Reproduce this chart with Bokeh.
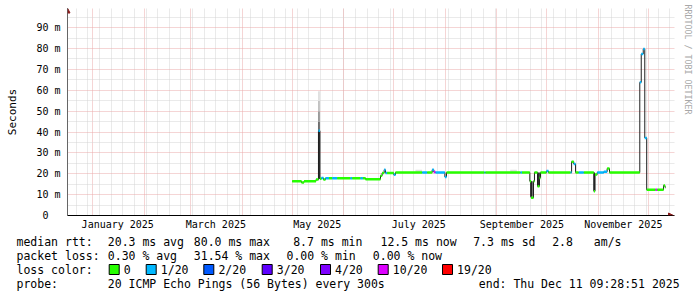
import pandas as pd
from bokeh.plotting import figure
from bokeh.layouts import column
from bokeh.models import (FixedTicker, DatetimeTickFormatter, Range1d, Arrow, NormalHead,
                          ColumnDataSource, LinearAxis)
from bokeh.core.properties import value
from bokeh.embed import file_html
from bokeh.resources import INLINE

# ---------------- data ----------------
seg_start = [
    "2025-04-30 21:00", "2025-05-06 12:00", "2025-05-08 00:00", "2025-05-15 05:00",
    "2025-05-16 17:00", "2025-05-17 14:00", "2025-05-18 12:00", "2025-05-19 17:00",
    "2025-05-20 22:00", "2025-05-23 00:00", "2025-05-25 00:00", "2025-05-28 00:00",
    "2025-06-04 22:00", "2025-06-06 00:00", "2025-06-11 00:00", "2025-06-12 10:00",
    "2025-06-14 00:00", "2025-06-23 00:00", "2025-06-24 00:00", "2025-06-25 05:00",
    "2025-06-26 00:00", "2025-06-27 00:00", "2025-07-01 00:00", "2025-07-02 00:00",
    "2025-07-18 02:00", "2025-07-21 02:00", "2025-07-24 02:00", "2025-07-25 02:00",
    "2025-07-26 02:00", "2025-07-31 17:00", "2025-08-01 17:00", "2025-08-24 12:00",
    "2025-08-25 02:00", "2025-09-15 05:00", "2025-09-16 02:00", "2025-09-20 19:00",
    "2025-09-21 14:00", "2025-09-23 00:00", "2025-09-23 14:00", "2025-09-25 10:00",
    "2025-09-26 14:00", "2025-09-27 05:00", "2025-09-30 19:00", "2025-10-02 00:00",
    "2025-10-15 07:00", "2025-10-15 22:00", "2025-10-17 05:00", "2025-10-18 07:00",
    "2025-10-20 05:00", "2025-10-23 07:00", "2025-10-29 07:00", "2025-10-30 00:00",
    "2025-10-31 07:00", "2025-11-04 07:00", "2025-11-06 07:00", "2025-11-07 17:00",
    "2025-11-25 22:00", "2025-11-26 19:00", "2025-11-28 00:00", "2025-11-28 22:00",
    "2025-11-30 02:00", "2025-12-05 10:00", "2025-12-06 10:00", "2025-12-10 05:00",
    "2025-12-11 02:00",
]
seg_median = [
    16.4, 15.8, 16.4, 17.2,
    40.6, 17.6, 18.0, 17.2,
    17.9, 17.9, 17.9, 17.9,
    17.9, 17.9, 17.9, 17.9,
    17.4, 19.1, 20.4, 21.9,
    20.4, 20.4, 19.5, 20.6,
    20.6, 20.6, 21.9, 20.8,
    20.6, 18.5, 20.6, 20.6,
    20.6, 20.6, 20.6, 16.4,
    8.5, 16.4, 20.6, 14.0,
    18.0, 20.6, 21.3, 20.6,
    20.6, 25.8, 24.7, 20.6,
    20.6, 20.6, 11.6, 19.6,
    20.6, 21.0, 22.5, 20.6,
    63.8, 77.4, 79.8, 37.2,
    12.3, 12.3, 12.3, 14.4,
    13.5,
]
seg_loss = [
    0, 0, 0, 0,
    1, 0, 1, 0,
    1, 0, 1, 0,
    1, 0, 1, 0,
    0, 0, 0, 1,
    1, 0, 1, 0,
    1, 0, 1, 10,
    1, 1, 0, 1,
    0, 1, 0, 0,
    0, 0, 0, 0,
    0, 0, 1, 0,
    1, 0, 1, 0,
    1, 0, 0, 0,
    1, 1, 0, 0,
    1, 1, 1, 1,
    0, 10, 0, 0,
    0,
]
data_end = "2025-12-11 09:28"

# smoke (spread of the 20 pings), rank 0 = close to median (dark) .. 4 = far (light)
smoke_start = ["2025-05-16 10:00"] * 5 + ["2025-07-14 00:00", "2025-09-09 00:00",
               "2025-09-21 00:00", "2025-09-25 06:00", "2025-10-29 04:00"]
smoke_end = ["2025-05-17 14:00"] * 5 + ["2025-07-18 00:00", "2025-09-13 00:00",
             "2025-09-22 12:00", "2025-09-26 20:00", "2025-10-30 00:00"]
smoke_lo = [17.5, 40.6, 45.0, 50.0, 55.0, 20.6, 20.6, 9.0, 14.5, 12.0]
smoke_hi = [40.6, 45.0, 50.0, 55.0, 59.5, 21.9, 21.9, 16.4, 20.6, 20.6]
smoke_rank = [0, 1, 2, 3, 4, 4, 4, 0, 0, 0]

loss_keys = [0, 1, 2, 3, 4, 10, 19]
loss_labels = ["0", "1/20", "2/20", "3/20", "4/20", "10/20", "19/20"]
loss_colors = ["#26ff00", "#00b8ff", "#0059ff", "#5e00ff", "#7e00ff", "#dd00ff", "#ff0000"]

y_ticks = [0, 10, 20, 30, 40, 50, 60, 70, 80, 90]
y_minor = [5, 15, 25, 35, 45, 55, 65, 75, 85, 95]
month_labels = ["2025-01-16", "2025-03-16", "2025-05-16", "2025-07-16", "2025-09-16", "2025-11-16"]
month_starts = ["2025-%02d-01" % m for m in range(1, 13)]
week_starts = list(pd.date_range("2024-12-22", "2025-12-14", freq="7D").strftime("%Y-%m-%d"))

x_start, x_end = "2024-12-16 19:00", "2025-12-16 19:00"
y_top = 99.2

legend_rows = [
    [("median rtt:", 16), ("20.3 ms avg", 107.3), ("80.0 ms max", 193.3), ("8.7 ms min", 292.7),
     ("12.5 ms now", 380), ("7.3 ms sd", 472.7), ("2.8", 551.7), ("am/s", 593.3)],
    [("packet loss:", 16), ("0.30 % avg", 107.3), ("31.54 % max", 193.3), ("0.00 % min", 286),
     ("0.00 % now", 372.3)],
    [("loss color:", 16)],
    [("probe:", 16), ("20 ICMP Echo Pings (56 Bytes) every 300s", 107.3),
     ("end: Thu Dec 11 09:28:51 2025", 478.3)],
]
legend_box_x = [108.7, 145.7, 203.3, 261.7, 320.0, 377.7, 442.0]

# ---------------- helpers ----------------
def ms(s):
    return pd.Timestamp(s).value / 1e6

W = 697
MAIN_H = 232
FL, FT, FB, FR = 67, 8, 216, 674   # frame edges (canvas px)
MONO = "DejaVu Sans Mono"

p = figure(width=W, height=MAIN_H, x_axis_type="datetime",
           x_range=Range1d(ms(x_start), ms(x_end)), y_range=Range1d(0, y_top),
           output_backend="svg", toolbar_location=None, title=None,
           min_border_left=FL, min_border_right=W - FR, min_border_top=FT,
           min_border_bottom=MAIN_H - FB,
           background_fill_color="white", border_fill_color="white", outline_line_color=None)

# grids
major_grid = "#eaaaaa"
minor_grid = "#d4d4d4"
p.xgrid.ticker = FixedTicker(ticks=[ms(d) for d in month_starts],
                             minor_ticks=[ms(d) for d in week_starts])
p.ygrid.ticker = FixedTicker(ticks=y_ticks[1:], minor_ticks=y_minor)
for g in (p.xgrid, p.ygrid):
    g.grid_line_color = major_grid
    g.grid_line_dash = "1 1"
    g.minor_grid_line_color = minor_grid
    g.minor_grid_line_dash = "1 1"

# axes
xa = p.xaxis[0]
xa.ticker = FixedTicker(ticks=[ms(d) for d in month_labels])
fmt = "%B %Y"
xa.formatter = DatetimeTickFormatter(microseconds=fmt, milliseconds=fmt, seconds=fmt, minsec=fmt,
                                     minutes=fmt, hourmin=fmt, hours=fmt, days=fmt,
                                     months=fmt, years=fmt)
ya = p.yaxis[0]
ya.ticker = FixedTicker(ticks=y_ticks)
ya.major_label_overrides = {t: (f"{t} m" if t else "0\u00a0\u00a0") for t in y_ticks}
for ax in (xa, ya):
    ax.major_tick_line_color = None
    ax.minor_tick_line_color = None
    ax.major_tick_out = 0
    ax.major_tick_in = 0
    ax.major_label_text_font = MONO
    ax.major_label_text_font_size = "10px"
    ax.major_label_text_color = "black"
xa.major_label_standoff = 3
ya.major_label_standoff = 7
xa.axis_line_color = "#000000"
ya.axis_line_color = "#666666"
ya.axis_label = "Seconds"
ya.axis_label_text_font = MONO
ya.axis_label_text_font_size = "11px"
ya.axis_label_text_font_style = "normal"
ya.axis_label_text_color = "black"
ya.axis_label_standoff = 14

# watermark as a bare right axis label (trailing no-break spaces lift it to the top)
wm = LinearAxis(ticker=FixedTicker(ticks=[]),
                axis_line_color=None, major_tick_line_color=None, minor_tick_line_color=None,
                axis_label="RRDTOOL / TOBI OETIKER" + "\u00a0" * 21,
                axis_label_text_font=MONO,
                axis_label_text_font_size="8.3px", axis_label_text_font_style="normal",
                axis_label_text_color="#a8a8a8", axis_label_standoff=8)
p.add_layout(wm, "right")

# smoke
shades = ["#2e2e2e", "#6e6e6e", "#9a9a9a", "#c2c2c2", "#e0e0e0"]
p.quad(left=[ms(d) for d in smoke_start], right=[ms(d) for d in smoke_end],
       bottom=smoke_lo, top=smoke_hi, fill_color=[shades[r] for r in smoke_rank],
       line_color=None)

# median step line
xs = [ms(d) for d in seg_start] + [ms(data_end)]
ys = seg_median + [seg_median[-1]]
p.step(x=xs, y=ys, mode="after", line_color="#202020", line_width=1)

# loss-coloured median band
cmap = dict(zip(loss_keys, loss_colors))
src = ColumnDataSource(dict(x0=xs[:-1], x1=xs[1:], y=seg_median,
                            c=[cmap[l] for l in seg_loss]))
p.segment(x0="x0", y0="y", x1="x1", y1="y", line_color="c", line_width=2.5,
          line_cap="butt", source=src)

# axis arrows
arrow_col = "#8b1c1c"
p.add_layout(Arrow(x_start=0, y_start=0, x_end=673 - FL, y_end=0,
                   start_units="screen", end_units="screen", line_color="#000000",
                   line_width=1, end=NormalHead(size=5, fill_color=arrow_col, line_color=arrow_col)))
p.add_layout(Arrow(x_start=0, y_start=0, x_end=0, y_end=FB - 8.5,
                   start_units="screen", end_units="screen", line_color="#666666",
                   line_width=1, end=NormalHead(size=5, fill_color=arrow_col, line_color=arrow_col)))

# ---------------- legend strip ----------------
LEG_H = 297 - MAIN_H
leg = figure(width=W, height=LEG_H, x_range=Range1d(0, W), y_range=Range1d(LEG_H, 0),
             output_backend="svg", toolbar_location=None, title=None,
             x_axis_location=None, y_axis_location=None, min_border=0,
             background_fill_color="white", border_fill_color="white", outline_line_color=None)
leg.grid.visible = False
for fig in (p, leg):
    try:
        fig.frame_align = False
    except AttributeError:
        pass

row_y = [241.3, 255.3, 269.3, 283.7]
tx, ty, tt = [], [], []
for row, cy in zip(legend_rows, row_y):
    for text, cx in row:
        tx.append(cx); ty.append(cy - MAIN_H); tt.append(text)
for bx, txt in zip(legend_box_x, loss_labels):
    tx.append(bx + 14.6); ty.append(row_y[2] - MAIN_H); tt.append(txt)
leg.text(x=tx, y=ty, text=tt, text_font=value(MONO), text_font_size=value("11.5px"),
         text_baseline="middle", text_align="left", text_color="black")
leg.quad(left=legend_box_x, right=[b + 10 for b in legend_box_x],
         top=[264 - MAIN_H] * len(legend_box_x), bottom=[274 - MAIN_H] * len(legend_box_x),
         fill_color=loss_colors, line_color="black", line_width=1)

layout = column(p, leg, spacing=0)
open("out.html", "w").write(file_html(layout, INLINE))
